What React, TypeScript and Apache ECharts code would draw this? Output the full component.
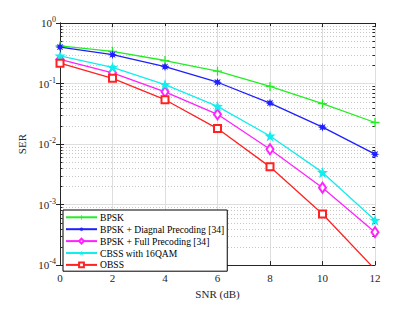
import React, { useEffect, useRef } from "react";
import * as echarts from "echarts";

const snr = [0, 2, 4, 6, 8, 10, 12];
const bpsk = [0.42, 0.34, 0.24, 0.16, 0.0895, 0.0465, 0.0227];
const bpskDiag = [0.4, 0.3, 0.19, 0.105, 0.0475, 0.019, 0.0068];
const bpskFull = [0.25, 0.15, 0.073, 0.031, 0.0082, 0.0019, 0.00035];
const cbss = [0.286, 0.185, 0.096, 0.042, 0.0136, 0.0034, 0.00055];
const obss = [0.217, 0.122, 0.054, 0.018, 0.0042, 0.0007, 0.000085];
const seriesNames = [
  "BPSK",
  "BPSK + Diagnal Precoding [34]",
  "BPSK + Full Precoding [34]",
  "CBSS with 16QAM",
  "OBSS",
];
const minorVals: number[] = [];
for (const d of [1e-4, 1e-3, 1e-2, 1e-1]) {
  for (let k = 2; k <= 9; k++) minorVals.push(+(d * k).toPrecision(3));
}

const FONT = "Liberation Serif";

const plusPath = "path://M4.3,0h1.4v10h-1.4z M0,4.3h10v1.4h-10z";
const starPath =
  "path://M5,0 L6.2,3.5 L10,3.6 L7,5.9 L8.1,9.6 L5,7.4 L1.9,9.6 L3,5.9 L0,3.6 L3.8,3.5 Z";
const asteriskPath =
  "path://M5,0 L5.9,2.8 L8.5,1.5 L7.2,4.1 L10,5 L7.2,5.9 L8.5,8.5 L5.9,7.2 L5,10 L4.1,7.2 L1.5,8.5 L2.8,5.9 L0,5 L2.8,4.1 L1.5,1.5 L4.1,2.8 Z";

export default function App() {
  const ref = useRef<HTMLDivElement>(null);
  useEffect(() => {
    if (!ref.current) return;
    const chart = echarts.init(ref.current, undefined, { renderer: "svg" });
    const mk = (
      name: string,
      data: number[],
      color: string,
      symbol: string,
      size: number | number[],
      hollow: boolean
    ) => ({
      name,
      type: "line",
      data: snr.map((x, i) => [x, data[i]]),
      symbol,
      symbolSize: size,
      showAllSymbol: true,
      clip: true,
      lineStyle: { color, width: 1.3 },
      itemStyle: hollow
        ? { color, borderColor: color, borderWidth: 1.2 }
        : { color, borderColor: color, borderWidth: 0 },
      emphasis: { disabled: true },
      z: 5,
    });
    chart.setOption({
      animation: false,
      textStyle: { fontFamily: FONT },
      grid: { left: 46, right: 32, top: 15, bottom: 28, containLabel: false },
      legend: {
        orient: "vertical",
        left: 55,
        top: 202,
        data: seriesNames,
        backgroundColor: "#fff",
        borderColor: "#000",
        borderWidth: 1,
        borderRadius: 0,
        padding: [2, 3, 1, 2],
        itemGap: 1.3,
        itemWidth: 31,
        itemHeight: 6,
        textStyle: {
          fontFamily: FONT,
          fontSize: 9.6,
          lineHeight: 10.6,
          color: "#000",
          padding: [0, 0, 0, -2],
        },
        selectedMode: false,
      },
      xAxis: [
        {
          type: "value",
          min: 0,
          max: 12,
          interval: 2,
          name: "SNR (dB)",
          nameLocation: "middle",
          nameGap: 22,
          nameTextStyle: { fontFamily: FONT, fontSize: 11, color: "#262626" },
          axisLine: { lineStyle: { color: "#262626", width: 1 } },
          axisTick: { inside: true, length: 4, lineStyle: { color: "#262626" } },
          axisLabel: { fontFamily: FONT, fontSize: 11, color: "#262626", margin: 7 },
          splitLine: { show: true, lineStyle: { color: "#dedede", width: 1 } },
        },
        {
          type: "value",
          position: "top",
          min: 0,
          max: 12,
          interval: 2,
          axisLine: { show: true, lineStyle: { color: "#262626", width: 1 } },
          axisTick: { show: true, inside: true, length: 4, lineStyle: { color: "#262626" } },
          axisLabel: { show: false },
          splitLine: { show: false },
        },
      ],
      yAxis: [
        {
          type: "log",
          logBase: 10,
          min: 1e-4,
          max: 1,
          name: "SER",
          nameLocation: "middle",
          nameGap: 33,
          nameTextStyle: { fontFamily: FONT, fontSize: 11, color: "#262626" },
          axisLine: { show: true, lineStyle: { color: "#262626", width: 1 } },
          axisTick: { show: true, inside: true, length: 4, lineStyle: { color: "#262626" } },
          axisLabel: {
            margin: 4,
            formatter: (v: number) => {
              const e = Math.round(Math.log10(v));
              return "{b|10}{s|" + e + "}";
            },
            rich: {
              b: { fontFamily: FONT, fontSize: 11, color: "#262626" },
              s: { fontFamily: FONT, fontSize: 8, color: "#262626", padding: [0, 0, 7, 0] },
            },
          },
          splitLine: { show: true, lineStyle: { color: "#dedede", width: 1 } },
        },
        {
          type: "log",
          logBase: 10,
          min: 1e-4,
          max: 1,
          position: "right",
          axisLine: { show: true, lineStyle: { color: "#262626", width: 1 } },
          axisTick: { show: true, inside: true, length: 4, lineStyle: { color: "#262626" } },
          axisLabel: { show: false },
          splitLine: { show: false },
        },
      ],
      series: [
        {
          type: "custom",
          silent: true,
          z: 1,
          data: minorVals.map((v) => [0, v]),
          encode: { x: 0, y: 1 },
          renderItem: (params: any, api: any) => {
            const cs = params.coordSys;
            const y = Math.round(api.coord([0, api.value(1)])[1]) + 0.5;
            return {
              type: "group",
              children: [
                {
                  type: "line",
                  shape: { x1: cs.x, y1: y, x2: cs.x + cs.width, y2: y },
                  style: { stroke: "#c8c8c8", lineWidth: 1, lineDash: [1, 2] },
                },
                {
                  type: "line",
                  shape: { x1: cs.x, y1: y, x2: cs.x + 2.5, y2: y },
                  style: { stroke: "#262626", lineWidth: 1 },
                },
                {
                  type: "line",
                  shape: { x1: cs.x + cs.width - 2.5, y1: y, x2: cs.x + cs.width, y2: y },
                  style: { stroke: "#262626", lineWidth: 1 },
                },
              ],
            };
          },
        },
        mk(seriesNames[0], bpsk, "#22ee22", plusPath, 9, false),
        mk(seriesNames[1], bpskDiag, "#1f1fff", asteriskPath, 9, false),
        mk(seriesNames[2], bpskFull, "#ff22ff", "emptyDiamond", [7, 10], true),
        mk(seriesNames[3], cbss, "#11eeee", starPath, 11, false),
        mk(seriesNames[4], obss, "#ff2222", "emptyRect", 7, true),
      ],
    });
    return () => chart.dispose();
  }, []);
  return <div ref={ref} style={{ width: 399, height: 296 }} />;
}
